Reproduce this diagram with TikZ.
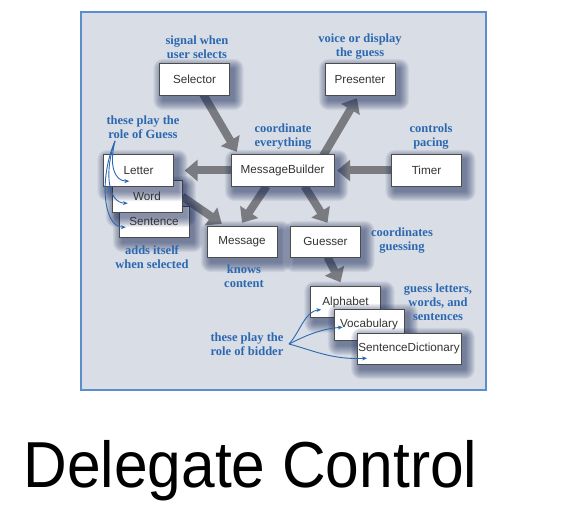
\documentclass[tikz,border=0pt]{standalone}
\usepackage{fontspec}
\setmainfont{Liberation Serif}
\setsansfont{Liberation Sans}
\usetikzlibrary{arrows.meta}

\definecolor{panel}{RGB}{217,221,230}
\definecolor{panelline}{RGB}{91,142,203}
\definecolor{noteblue}{RGB}{44,104,176}
\definecolor{fatgray}{RGB}{122,123,128}
\definecolor{boxshadow}{RGB}{22,40,88}

\pgfdeclarelayer{bg}
\pgfdeclarelayer{fg}
\pgfsetlayers{bg,main,fg}

\tikzset{
  cls/.style={minimum width=70bp,minimum height=31bp,inner sep=1bp,
    font=\sffamily\fontsize{11.7bp}{13bp}\selectfont,text=black!80},
  clsbox/.style={draw=black!70,line width=0.6bp,fill=white},
  clsshadow/.style={fill=boxshadow,opacity=0.065},
  remark/.style={align=center,text=noteblue,font=\bfseries\fontsize{12.5bp}{14bp}\selectfont},
  fatarrow/.style={draw=fatgray,line width=8bp,-{Triangle[width=21bp,length=13bp]}},
  pointer/.style={draw=noteblue,line width=0.9bp,-{Stealth[length=5bp,width=4bp]}}
}

\begin{document}
\begin{tikzpicture}[x=1bp,y=-1bp]
\useasboundingbox (0,0) rectangle (577,507);

\begin{pgfonlayer}{fg}
\node (selector) at (194.5,79.5) [cls] {Selector};
\node (presenter) at (360,79.5) [cls] {Presenter};
\node (mb) at (282.5,170.5) [cls,minimum width=103bp] {MessageBuilder};
\node (timer) at (426.5,170.5) [cls] {Timer};
\node (sentence) at (154,221.5) [cls] {Sentence};
\node (word) at (147,196.5) [cls] {Word};
\node (letter) at (138.5,170.5) [cls] {Letter};
\node (message) at (242,241.5) [cls] {Message};
\node (guesser) at (325.5,241.5) [cls] {Guesser};
\node (alphabet) at (345.5,302) [cls] {Alphabet};
\node (vocab) at (369,324.5) [cls] {Vocabulary};
\node (sd) at (409,348.5) [cls] {SentenceDictionary};
\end{pgfonlayer}

\foreach \n in {selector,presenter,mb,timer,sentence,word,letter,message,guesser,alphabet,vocab,sd}{
  \foreach \r in {1,...,10}
    \fill[clsshadow,rounded corners=\r bp] ([shift={(4-\r,5-\r)}]\n.north west) rectangle ([shift={(4+\r,5+\r)}]\n.south east);
  \draw[clsbox] (\n.north west) rectangle (\n.south east);
}

\begin{pgfonlayer}{bg}
\fill[panel] (81,12) rectangle (486,390);
\draw[panelline,line width=1.2bp] (81,12) rectangle (486,390);
\draw[fatarrow] ([xshift=8bp,yshift=2bp]selector.south) -- ([xshift=6bp,yshift=3bp]mb.north west);
\draw[fatarrow] ([xshift=40bp,yshift=-2bp]mb.north) -- ([xshift=-3bp,yshift=-3bp]presenter.south);
\draw[fatarrow] (timer.west) -- ([xshift=3bp]mb.east);
\draw[fatarrow] (mb.west) -- ([xshift=11bp]letter.east);
\draw[fatarrow] (word.east) -- ([xshift=15bp,yshift=2bp]message.north west);
\draw[fatarrow] ([xshift=-16bp]mb.south) -- ([yshift=3bp]message.north);
\draw[fatarrow] ([xshift=22bp]mb.south) -- ([xshift=2bp,yshift=3bp]guesser.north);
\draw[fatarrow] ([xshift=2bp]guesser.south) -- ([xshift=-5bp,yshift=4bp]alphabet.north);
\end{pgfonlayer}

\node (signal) at (197,47) [remark] {signal when\\user selects};
\node (voice) at (360,47) [remark] {voice or display\\the guess};
\node (playguess) at (143,127) [remark] {these play the\\role of Guess};
\node (coord) at (283,137) [remark] {coordinate\\everything};
\node (pacing) at (431,137) [remark] {controls\\pacing};
\node (adds) at (152,257) [remark] {adds itself\\when selected};
\node (knows) at (244,276) [remark] {knows\\content};
\node (coordguess) at (402,241) [remark] {coordinates\\guessing};
\node (guesslet) at (438,302) [remark] {guess letters,\\words, and\\sentences};
\node (playbidder) at (247,344) [remark] {these play the\\role of bidder};

\begin{pgfonlayer}{fg}
\coordinate (guessroot) at (115,141);
\coordinate (bidroot) at (289,344);
\draw[pointer] (guessroot) .. controls (109,165) and (114,181) .. ([shift={(26bp,5bp)}]letter.south west);
\draw[pointer] (guessroot) .. controls (104,172) and (108,203) .. ([shift={(16bp,9bp)}]word.south west);
\draw[pointer] (guessroot) .. controls (99,178) and (103,227) .. ([shift={(7bp,10bp)}]sentence.south west);
\draw[pointer] (bidroot) .. controls (300,332) and (305,311) .. ([shift={(11bp,8bp)}]alphabet.south west);
\draw[pointer] (bidroot) .. controls (305,336) and (320,329) .. ([shift={(9bp,13bp)}]vocab.south west);
\draw[pointer] (bidroot) .. controls (312,350) and (332,360) .. ([shift={(10bp,6bp)}]sd.south west);
\end{pgfonlayer}

\node (title) at (250.5,487) [anchor=base,font=\sffamily\fontsize{65bp}{65bp}\selectfont] {\scalebox{0.93}[1]{Delegate Control}};
\end{tikzpicture}
\end{document}
